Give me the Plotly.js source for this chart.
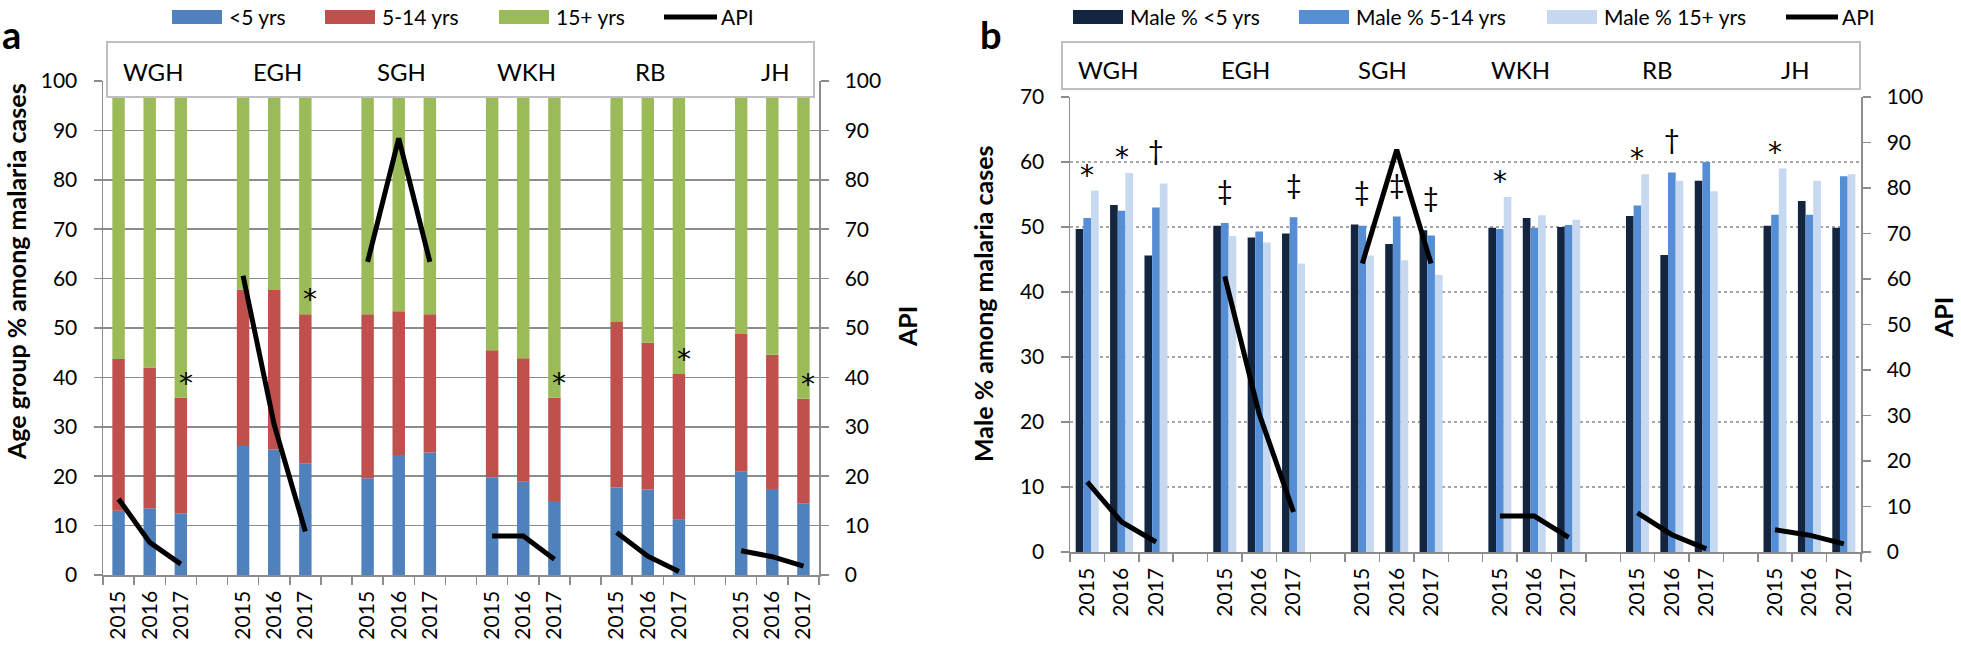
<!DOCTYPE html>
<html><head><meta charset="utf-8">
<script src="https://cdn.plot.ly/plotly-3.0.1.min.js"></script>
<style>html,body{margin:0;padding:0;background:#fff}#chart{width:1961px;height:645px}</style>
</head><body><div id="chart"></div><script>
// ---------- data ----------
const sites = ['WGH', 'EGH', 'SGH', 'WKH', 'RB', 'JH'];
const years = ['2015', '2016', '2017'];

// Panel a: age group % among malaria cases (per site, 2015-2017)
const under5 =    [13.0, 13.5, 12.5,  26.1, 25.4, 22.6,  19.6, 24.3, 24.8,  19.8, 18.9, 15.0,  17.7, 17.3, 11.3,  20.9, 17.4, 14.5];
const age5to14 =  [30.7, 28.5, 23.4,  31.7, 32.3, 30.2,  33.2, 29.1, 28.0,  25.7, 25.0, 20.9,  33.5, 29.7, 29.4,  27.9, 27.2, 21.2];
const age15plus = [56.3, 58.0, 64.1,  42.2, 42.3, 47.2,  47.2, 46.6, 47.2,  54.5, 56.1, 64.1,  48.8, 53.0, 59.3,  51.2, 55.4, 64.3];
const sigA =      ['', '', '*',  '', '', '*',  '', '', '',  '', '', '*',  '', '', '*',  '', '', '*'];

// Panel b: male % among malaria cases by age group
const maleUnder5 =   [49.7, 53.4, 45.6,  50.2, 48.4, 49.0,  50.4, 47.4, 49.5,  49.9, 51.4, 50.0,  51.7, 45.7, 57.1,  50.2, 54.0, 49.9];
const male5to14 =    [51.4, 52.5, 53.0,  50.6, 49.3, 51.5,  50.2, 51.6, 48.7,  49.7, 49.9, 50.3,  53.3, 58.4, 60.0,  51.9, 51.9, 57.8];
const male15plus =   [55.6, 58.3, 56.7,  48.6, 47.6, 44.4,  45.6, 44.9, 42.6,  54.6, 51.8, 51.1,  58.1, 57.1, 55.5,  59.0, 57.1, 58.1];
const sigB =         ['*', '*', '†',  '‡', '', '‡',  '‡', '‡', '‡',  '*', '', '',  '*', '†', '',  '*', '', ''];

// Annual parasite incidence (API)
const api = [15.4, 6.6, 2.2,  60.6, 30.4, 8.8,  63.4, 88.4, 63.4,  7.9, 7.9, 3.2,  8.6, 3.8, 0.7,  4.9, 3.7, 1.8];

// ---------- helpers ----------
const W = 1961, H = 645;
const FONT = 'Lato, "Open Sans", sans-serif';
const STAR_FONT = '"DejaVu Sans", sans-serif';
const px = x => x / W;
const py = y => 1 - y / H;

const cats = [], tickText = [], barX = [];
sites.forEach((s, i) => {
  years.forEach(y => { cats.push(s + ' ' + y); tickText.push(y); barX.push(s + ' ' + y); });
  if (i < sites.length - 1) { cats.push('gap' + i); tickText.push(''); }
});
const lineY = cats.map(c => { const k = barX.indexOf(c); return k >= 0 ? api[k] : null; });
const baseRed = under5.map(v => v);
const baseGreen = under5.map((v, i) => v + age5to14[i]);

const gray = '#8c8c8c';
function xAxis(domain, anchor) {
  return {domain, anchor, type: 'category', categoryorder: 'array', categoryarray: cats,
    tickmode: 'array', tickvals: cats, ticktext: tickText, tickson: 'boundaries',
    ticks: 'outside', ticklen: 8, tickwidth: 1.5, tickcolor: gray, tickangle: -90,
    showline: true, linecolor: gray, linewidth: 1.5, showgrid: false, zeroline: false,
    range: [-0.5, cats.length - 0.5], tickfont: {family: FONT, size: 21, color: '#000'},
    ticklabelstandoff: 6, fixedrange: true};
}
function yAxis(domain, anchor, range, opts) {
  return Object.assign({domain, anchor, range, dtick: 10, tick0: 0, ticks: 'outside', ticklen: 8,
    tickwidth: 1.5, tickcolor: gray, showline: true, linecolor: gray, linewidth: 1.5,
    zeroline: false, tickfont: {family: FONT, size: 21, color: '#000'}, ticklabelstandoff: 12,
    fixedrange: true}, opts);
}

const domXa = [px(103), px(819)], domYa = [py(575), py(81)];
const domXb = [px(1070), px(1861)], domYb = [py(552), py(97)];

const traces = [];
// invisible traces to register all categories (including the gaps between sites)
traces.push({type: 'scatter', x: cats, y: cats.map(() => null), xaxis: 'x', yaxis: 'y', showlegend: false, hoverinfo: 'skip'});
traces.push({type: 'scatter', x: cats, y: cats.map(() => null), xaxis: 'x2', yaxis: 'y3', showlegend: false, hoverinfo: 'skip'});

// Panel a stacked bars
traces.push({type: 'bar', name: '<5 yrs', x: barX, y: under5, xaxis: 'x', yaxis: 'y', width: 0.4, marker: {color: '#4F81BD', line: {width: 0}}});
traces.push({type: 'bar', name: '5-14 yrs', x: barX, y: age5to14, base: baseRed, xaxis: 'x', yaxis: 'y', width: 0.4, marker: {color: '#C0504D', line: {width: 0}}});
traces.push({type: 'bar', name: '15+ yrs', x: barX, y: age15plus, base: baseGreen, xaxis: 'x', yaxis: 'y', width: 0.4, marker: {color: '#9BBB59', line: {width: 0}}});
traces.push({type: 'scatter', mode: 'lines', name: 'API', x: cats, y: lineY, xaxis: 'x', yaxis: 'y2', connectgaps: false, line: {color: '#000', width: 5}});

// Panel b grouped bars
const bw = 0.223;
traces.push({type: 'bar', name: 'Male % <5 yrs', x: barX, y: maleUnder5, xaxis: 'x2', yaxis: 'y3', width: bw, offset: -1.5 * bw, marker: {color: '#14253F', line: {width: 0}}});
traces.push({type: 'bar', name: 'Male % 5-14 yrs', x: barX, y: male5to14, xaxis: 'x2', yaxis: 'y3', width: bw, offset: -0.5 * bw, marker: {color: '#558ED5', line: {width: 0}}});
traces.push({type: 'bar', name: 'Male % 15+ yrs', x: barX, y: male15plus, xaxis: 'x2', yaxis: 'y3', width: bw, offset: 0.5 * bw, marker: {color: '#C6D9F1', line: {width: 0}}});
traces.push({type: 'scatter', mode: 'lines', name: 'API', x: cats, y: lineY, xaxis: 'x2', yaxis: 'y4', connectgaps: false, line: {color: '#000', width: 5}});

// ---------- annotations & shapes ----------
const ann = [], shapes = [];
const txt = (x, y, text, o) => Object.assign({xref: 'paper', yref: 'paper', x: px(x), y: py(y), text, showarrow: false,
  font: {family: FONT, size: 21, color: '#000'}, xanchor: 'left', yanchor: 'middle'}, o || {});

// panel letters
ann.push(txt(0, 34, '<b>a</b>', {font: {family: FONT, size: 38, color: '#000'}}));
ann.push(txt(978, 34, '<b>b</b>', {font: {family: FONT, size: 38, color: '#000'}}));

// axis titles
ann.push(txt(16, 272, '<b>Age group % among malaria cases</b>', {xanchor: 'center', textangle: -90, font: {family: FONT, size: 25, color: '#000'}}));
ann.push(txt(907, 327, '<b>API</b>', {xanchor: 'center', textangle: -90, font: {family: FONT, size: 25, color: '#000'}}));
ann.push(txt(983, 304, '<b>Male % among malaria cases</b>', {xanchor: 'center', textangle: -90, font: {family: FONT, size: 25, color: '#000'}}));
ann.push(txt(1943, 318, '<b>API</b>', {xanchor: 'center', textangle: -90, font: {family: FONT, size: 25, color: '#000'}}));

// legends
function legendRect(x0, color) {
  shapes.push({type: 'rect', xref: 'paper', yref: 'paper', x0: px(x0), x1: px(x0 + 50), y0: py(24), y1: py(10), fillcolor: color, line: {width: 0}});
}
function legendLine(x0, x1) {
  shapes.push({type: 'line', xref: 'paper', yref: 'paper', x0: px(x0), x1: px(x1), y0: py(17), y1: py(17), line: {color: '#000', width: 5}});
}
legendRect(172, '#4F81BD'); ann.push(txt(227, 17, '<5 yrs'));
legendRect(325, '#C0504D'); ann.push(txt(380, 17, '5-14 yrs'));
legendRect(499, '#9BBB59'); ann.push(txt(554, 17, '15+ yrs'));
legendLine(664, 717); ann.push(txt(719, 17, 'API'));
legendRect(1073, '#14253F'); ann.push(txt(1128, 17, 'Male % <5 yrs'));
legendRect(1299, '#558ED5'); ann.push(txt(1354, 17, 'Male % 5-14 yrs'));
legendRect(1547, '#C6D9F1'); ann.push(txt(1602, 17, 'Male % 15+ yrs'));
legendLine(1786, 1838); ann.push(txt(1840, 17, 'API'));

// site label boxes
shapes.push({type: 'rect', xref: 'paper', yref: 'paper', layer: 'above', x0: px(107), x1: px(814), y0: py(97), y1: py(42), fillcolor: '#fff', line: {color: '#bfbfbf', width: 2}});
shapes.push({type: 'rect', xref: 'paper', yref: 'paper', layer: 'above', x0: px(1062), x1: px(1860), y0: py(89), y1: py(42), fillcolor: '#fff', line: {color: '#bfbfbf', width: 2}});
sites.forEach(s => {
  ann.push({xref: 'x', yref: 'paper', x: s + ' 2016', y: py(71), xshift: 3, text: s, showarrow: false, font: {family: FONT, size: 24, color: '#000'}, xanchor: 'center', yanchor: 'middle'});
  ann.push({xref: 'x2', yref: 'paper', x: s + ' 2016', y: py(70), xshift: -14, text: s, showarrow: false, font: {family: FONT, size: 24, color: '#000'}, xanchor: 'center', yanchor: 'middle'});
});

// significance markers
function symFont(t) {
  return t === '*' ? {family: STAR_FONT, size: 28, color: '#000'} : {family: FONT, size: 27, color: '#000'};
}
barX.forEach((c, i) => {
  if (sigA[i]) ann.push({xref: 'x', yref: 'y', x: c, y: baseGreen[i], text: sigA[i], showarrow: false, xshift: 5, yshift: -4,
    font: symFont(sigA[i]), xanchor: 'center', yanchor: 'bottom'});
  if (sigB[i]) {
    const top = Math.max(maleUnder5[i], male5to14[i], male15plus[i]);
    ann.push({xref: 'x2', yref: 'y3', x: c, y: top, text: sigB[i], showarrow: false, yshift: sigB[i] === '*' ? -3 : 15,
      font: symFont(sigB[i]), xanchor: 'center', yanchor: 'bottom'});
  }
});

const layout = {
  width: W, height: H, margin: {l: 0, r: 0, t: 0, b: 0}, paper_bgcolor: '#fff', plot_bgcolor: 'rgba(0,0,0,0)',
  barmode: 'overlay', showlegend: false, font: {family: FONT, color: '#000'},
  xaxis: xAxis(domXa, 'y'),
  yaxis: yAxis(domYa, 'x', [0, 100], {showgrid: true, gridcolor: gray, gridwidth: 1.5}),
  yaxis2: yAxis(domYa, 'x', [0, 100], {overlaying: 'y', side: 'right', showgrid: false}),
  xaxis2: xAxis(domXb, 'y3'),
  yaxis3: yAxis(domYb, 'x2', [0, 70], {showgrid: true, gridcolor: '#a6a6a6', gridwidth: 1.5, griddash: 'dot'}),
  yaxis4: yAxis(domYb, 'x2', [0, 100], {overlaying: 'y3', side: 'right', showgrid: false}),
  annotations: ann, shapes: shapes
};
Plotly.newPlot('chart', traces, layout, {staticPlot: true, displayModeBar: false});
</script></body></html>
